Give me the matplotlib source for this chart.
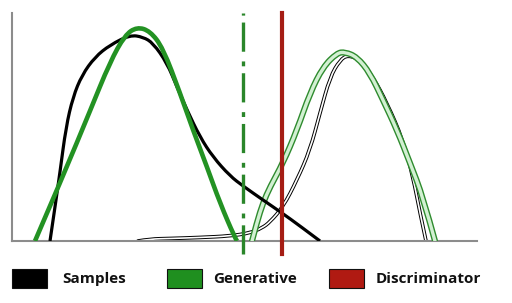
import numpy as np
import matplotlib.pyplot as plt
from matplotlib.patches import Rectangle, PathPatch
from matplotlib.path import Path

plt.rcParams['lines.scale_dashes'] = False

# curves: x position and y position (pixels, y down)
samples_x = [50, 55, 60, 66, 73, 82, 95, 110, 130, 143, 153, 167, 177, 187,
             200, 213, 230, 243, 263, 282, 300, 320]
samples_py = [241, 207, 172, 127, 97, 75, 57, 45, 35, 37, 43, 63, 87, 110,
              137, 157, 176, 186, 200, 213, 226, 241]

gen_x = [35, 63, 90, 110, 125, 137, 150, 163, 180, 193, 207, 220, 235, 237]
gen_py = [241, 176, 111, 62, 35, 27, 31, 48, 93, 130, 167, 203, 238, 241]

gen2_x = [252, 257, 263, 270, 283, 297, 310, 323, 337, 345, 357, 370, 383, 397,
          410, 423, 435]
gen2_py = [241, 222, 203, 187, 163, 130, 93, 67, 53, 52, 57, 73, 100, 130,
           163, 197, 241]

samp2_x = [138, 150, 170, 200, 230, 250, 262, 270, 283, 297, 310, 320, 330, 340,
           348, 360, 373, 387, 403, 413, 420, 426]
samp2_py = [241, 239, 238.5, 237.5, 236, 233, 228, 222, 207, 180, 150, 113, 77, 60,
            55, 60, 77, 103, 140, 177, 213, 241]

gen_boundary = 243
disc_boundary = 282

legend_labels = ['Samples', 'Generative', 'Discriminator']
legend_colors = ['#000000', '#1f8f1f', '#b01a12']

BASE = 241
W, H = 512, 303

fig = plt.figure(figsize=(W / 100, H / 100), dpi=100)
ax = fig.add_axes([12 / W, (H - BASE) / H, (477 - 12) / W, (BASE - 13) / H])
ax.set_xlim(12, 477)
ax.set_ylim(0, BASE - 13)


def curve(xs, pys, **kw):
    # smooth path through the read points (quadratic segments between midpoints)
    pts = np.column_stack([xs, BASE - np.array(pys, dtype=float)])
    verts = [pts[0]]
    codes = [Path.MOVETO]
    n = len(pts)
    for i in range(1, n - 1):
        end = pts[-1] if i == n - 2 else (pts[i] + pts[i + 1]) / 2
        verts += [pts[i], end]
        codes += [Path.CURVE3, Path.CURVE3]
    ax.add_patch(PathPatch(Path(verts, codes), fill=False, **kw))


# outlined (hollow) curves on the right
curve(samp2_x, samp2_py, edgecolor='black', lw=2.6, capstyle='round', zorder=2)
curve(samp2_x, samp2_py, edgecolor='white', lw=1.2, capstyle='round', zorder=2.1)
curve(gen2_x, gen2_py, edgecolor='#2e8b2e', lw=4.4, capstyle='round', zorder=3)
curve(gen2_x, gen2_py, edgecolor='#d2f0d2', lw=2.4, capstyle='round', zorder=3.1)

# solid curves
curve(samples_x, samples_py, edgecolor='black', lw=2.3, zorder=4)
curve(gen_x, gen_py, edgecolor='#239223', lw=3.3, zorder=5)

# boundaries
ln, = ax.plot([gen_boundary, gen_boundary], [-13, BASE - 13], color='#2a862a',
              lw=2.4, clip_on=False, zorder=6)
ln.set_dashes((21, 5, 3.5, 7))
ax.plot([disc_boundary, disc_boundary], [-13, BASE - 13], color='#a51d14',
        lw=3, clip_on=False, zorder=7)

for s in ['top', 'right']:
    ax.spines[s].set_visible(False)
for s in ['left', 'bottom']:
    ax.spines[s].set_color('#8c8c8c')
    ax.spines[s].set_linewidth(1.5)
ax.set_xticks([])
ax.set_yticks([])

# legend row
box_x = [12, 167, 329]
text_x = [62, 213, 376]
for bx, tx, lab, col in zip(box_x, text_x, legend_labels, legend_colors):
    fig.patches.append(Rectangle((bx / W, (H - 288) / H), 35 / W, 19 / H,
                                 transform=fig.transFigure, facecolor=col,
                                 edgecolor='#111111', lw=0.8))
    fig.text(tx / W, (H - 279) / H, lab, fontsize=11, fontweight='bold',
             family='Open Sans', va='center', ha='left', color='#111111')

fig.savefig('out.png', dpi=100)
